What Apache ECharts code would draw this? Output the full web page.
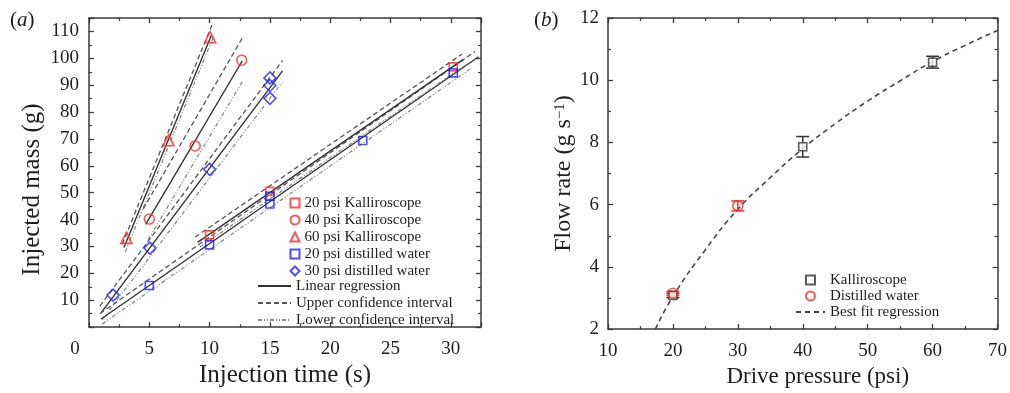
<!DOCTYPE html>
<html><head><meta charset="utf-8">
<script src="https://cdn.jsdelivr.net/npm/echarts@6/dist/echarts.min.js"></script>
<style>html,body{margin:0;padding:0;background:#fff}#c{width:1010px;height:393px}</style>
</head><body><div id="c"></div>
<script>
// ---------- Panel (a): injected mass vs injection time ----------
const k20 = [[10, 34.3], [15, 50.5], [30.2, 96.8]];
const k40 = [[5, 40.2], [8.8, 67.4], [12.66, 99.3]];
const k60 = [[3.1, 33.2], [6.6, 69.5], [10.05, 107.9]];
const w20 = [[5, 15.5], [10, 30.6], [15, 48.7], [15, 45.8], [22.7, 69.4], [30.2, 94.6]];
const w30 = [[2.0, 11.9], [5.05, 29.4], [10, 58.7], [15, 92.7], [15, 89.9], [15, 85.1]];

// regression lines and confidence intervals (end points)
const fitK60 = [[2.9, 29.6], [10.15, 108.6]];
const upK60 = [[2.75, 30.8], [10.25, 113.0]];
const loK60 = [[3.0, 28.0], [10.35, 108.4]];
const fitK40 = [[4.7, 38.2], [12.7, 99.0]];
const upK40 = [[4.5, 44.0], [12.7, 107.5]];
const loK40 = [[4.9, 32.5], [12.8, 92.0]];
const fitW30 = [[1.0, 5.3], [16.05, 95.3]];
const upW30 = [[0.9, 7.8], [16.05, 99.2]];
const loW30 = [[1.1, 2.8], [16.0, 91.0]];
const fitW20 = [[1.0, 3.0], [32.3, 100.6]];
const upW20 = [[0.9, 5.0], [32.0, 102.5]];
const loW20 = [[1.1, 1.2], [31.6, 96.0]];
const fitK20 = [[9.0, 31.5], [31.0, 99.5]];
const upK20 = [[8.8, 33.5], [30.9, 101.5]];
const loK20 = [[9.2, 29.8], [31.2, 97.5]];

// ---------- Panel (b): flow rate vs drive pressure ----------
const kallPts = [[20, 3.08], [40, 7.86], [60, 10.58]];
const kallErr = [0.07, 0.33, 0.19];
const waterPts = [[20, 3.15], [30, 5.96]];
const waterErr = [0.07, 0.16];
const bestFit = [[17.3, 2.0], [20, 3.05], [25, 4.55], [30, 5.85], [35, 6.87], [40, 7.8], [45, 8.6], [50, 9.33], [55, 9.98], [60, 10.6], [65, 11.12], [70, 11.6]];

const FONT = 'Liberation Serif';
const TXT = '#1e1e1e';
const AX = '#3a3a3a';
const RED = '#ff2b2b';
const BLUE = '#2222ff';

function axisBase(extra) {
  return Object.assign({
    type: 'value',
    axisLine: { show: true, onZero: false, lineStyle: { color: AX, width: 1.5 } },
    axisTick: { show: true, inside: true, length: 5, lineStyle: { color: AX, width: 1.3 } },
    minorTick: { show: true, inside: true, splitNumber: 2, length: 3, lineStyle: { color: AX, width: 1.2 } },
    splitLine: { show: false },
    axisLabel: { show: false }
  }, extra);
}
const labelStyle = { fontFamily: FONT, fontSize: 19, color: TXT };
const nameStyle = { fontFamily: FONT, fontSize: 25, color: TXT };
const legendText = { fontFamily: FONT, fontSize: 15, color: TXT, lineHeight: 17 };

const markerStyle = (c) => ({ color: 'rgba(0,0,0,0)', borderColor: c, borderWidth: 1.6 });
function scatter(name, data, symbol, size, color) {
  return { name, type: 'scatter', xAxisIndex: 0, yAxisIndex: 0, data, symbol, symbolSize: size,
    itemStyle: markerStyle(color), z: 5 };
}
function lineS(name, data, kind) {
  const ls = kind === 'fit' ? { color: '#333', width: 1.4, type: 'solid' }
    : kind === 'up' ? { color: '#555', width: 1.3, type: [5, 3] }
    : { color: '#8a8a8a', width: 1.3, type: [4, 2, 1, 2, 1, 2] };
  return { name, type: 'line', xAxisIndex: 0, yAxisIndex: 0, data, symbol: 'none',
    lineStyle: ls, itemStyle: { color: ls.color }, z: 3, silent: true };
}
function errSeries(pts, errs, color) {
  return {
    type: 'custom', xAxisIndex: 2, yAxisIndex: 2, z: 4, silent: true,
    data: pts.map((p, i) => [p[0], p[1], errs[i]]),
    renderItem: function (params, api) {
      const x = api.value(0), y = api.value(1), e = api.value(2);
      const t = api.coord([x, y + e]), b = api.coord([x, y - e]);
      const w = 6.5, st = { stroke: color, lineWidth: 1.5 };
      return { type: 'group', children: [
        { type: 'line', shape: { x1: t[0], y1: t[1], x2: b[0], y2: b[1] }, style: st },
        { type: 'line', shape: { x1: t[0] - w, y1: t[1], x2: t[0] + w, y2: t[1] }, style: st },
        { type: 'line', shape: { x1: b[0] - w, y1: b[1], x2: b[0] + w, y2: b[1] }, style: st }
      ] };
    }
  };
}
const panelRich = { p: { fontFamily: FONT, fontSize: 21, fontWeight: 'normal', color: TXT },
  i: { fontFamily: FONT, fontSize: 21, fontWeight: 'normal', fontStyle: 'italic', color: TXT } };

const chart = echarts.init(document.getElementById('c'));
chart.setOption({
  animation: false,
  backgroundColor: '#fff',
  title: [
    { text: '{p|(}{i|a}{p|)}', left: 5, top: 5, textStyle: { fontWeight: 'normal', rich: panelRich } },
    { text: '{p|(}{i|b}{p|)}', left: 529, top: 5, textStyle: { fontWeight: 'normal', rich: panelRich } }
  ],
  grid: [
    { left: 89, top: 18, width: 392, height: 312 },
    { left: 608, top: 18, width: 392, height: 314 }
  ],
  xAxis: [
    axisBase({ gridIndex: 0, position: 'bottom', min: 0, max: 32.5, interval: 5,
      axisLabel: { show: true, margin: 12, ...labelStyle,
        formatter: v => v === 0 ? '{z|0}' : (Math.abs(v % 5) < 1e-9 ? String(v) : ''),
        rich: { z: { ...labelStyle, padding: [0, 28, 0, 0] } } },
      name: 'Injection time (s)', nameLocation: 'middle', nameGap: 32, nameTextStyle: nameStyle }),
    axisBase({ gridIndex: 0, position: 'top', min: 0, max: 32.5, interval: 5 }),
    axisBase({ gridIndex: 1, position: 'bottom', min: 10, max: 70, interval: 10,
      axisLabel: { show: true, margin: 12, ...labelStyle },
      name: 'Drive pressure (psi)', nameLocation: 'middle', nameGap: 33,
      nameTextStyle: { ...nameStyle, fontSize: 23, padding: [0, 0, 0, 30] } }),
    axisBase({ gridIndex: 1, position: 'top', min: 10, max: 70, interval: 10 })
  ],
  yAxis: [
    axisBase({ gridIndex: 0, position: 'left', min: 0, max: 115, interval: 10,
      axisLabel: { show: true, margin: 10, ...labelStyle,
        formatter: v => (v > 0 && Math.abs(v % 10) < 1e-9) ? String(v) : '' },
      name: 'Injected mass (g)', nameLocation: 'middle', nameGap: 44,
      nameTextStyle: { ...nameStyle, padding: [0, 34, 0, 0] } }),
    axisBase({ gridIndex: 0, position: 'right', min: 0, max: 115, interval: 10 }),
    axisBase({ gridIndex: 1, position: 'left', min: 2, max: 12, interval: 2,
      axisLabel: { show: true, margin: 9, ...labelStyle },
      name: '{n|Flow rate (g s}{s|−1}{n|)}', nameLocation: 'middle', nameGap: 30,
      nameTextStyle: { ...nameStyle, rich: { n: { ...nameStyle, fontSize: 24 }, s: { fontFamily: FONT, fontSize: 15, color: TXT, verticalAlign: 'top' } } } }),
    axisBase({ gridIndex: 1, position: 'right', min: 2, max: 12, interval: 2 })
  ],
  legend: [
    { left: 289.5, top: 194.5, padding: 0, orient: 'vertical', itemWidth: 9, itemHeight: 9, itemGap: 0, selectedMode: false,
      textStyle: legendText,
      data: ['20 psi Kalliroscope', '40 psi Kalliroscope', '60 psi Kalliroscope', '20 psi distilled water', '30 psi distilled water'] },
    { left: 257, top: 277.5, padding: 0, orient: 'vertical', itemWidth: 33, itemHeight: 9, itemGap: 0, selectedMode: false,
      itemStyle: { opacity: 0 },
      textStyle: legendText,
      data: ['Linear regression', 'Upper confidence interval', 'Lower confidence interval'] },
    { left: 795, top: 272, padding: 0, orient: 'vertical', itemWidth: 29, itemHeight: 9, itemGap: 0, selectedMode: false,
      textStyle: { ...legendText, lineHeight: 16 },
      data: [
        { name: 'Kalliroscope', icon: 'path://M0,0H10V10H0Z' },
        { name: 'Distilled water', icon: 'path://M10,5A5,5,0,1,1,0,5A5,5,0,1,1,10,5Z' },
        { name: 'Best fit regression', itemStyle: { opacity: 0 } }
      ] }
  ],
  series: [
    lineS('Linear regression', fitK60, 'fit'), lineS('Upper confidence interval', upK60, 'up'), lineS('Lower confidence interval', loK60, 'lo'),
    lineS('Linear regression', fitK40, 'fit'), lineS('Upper confidence interval', upK40, 'up'), lineS('Lower confidence interval', loK40, 'lo'),
    lineS('Linear regression', fitW30, 'fit'), lineS('Upper confidence interval', upW30, 'up'), lineS('Lower confidence interval', loW30, 'lo'),
    lineS('Linear regression', fitW20, 'fit'), lineS('Upper confidence interval', upW20, 'up'), lineS('Lower confidence interval', loW20, 'lo'),
    lineS('Linear regression', fitK20, 'fit'), lineS('Upper confidence interval', upK20, 'up'), lineS('Lower confidence interval', loK20, 'lo'),
    scatter('20 psi Kalliroscope', k20, 'rect', 8, RED),
    scatter('40 psi Kalliroscope', k40, 'circle', 10, RED),
    scatter('60 psi Kalliroscope', k60, 'triangle', 11, RED),
    scatter('20 psi distilled water', w20, 'rect', 8, BLUE),
    scatter('30 psi distilled water', w30, 'diamond', 12, BLUE),
    { name: 'Best fit regression', type: 'line', xAxisIndex: 2, yAxisIndex: 2, data: bestFit, smooth: true,
      symbol: 'none', lineStyle: { color: '#444', width: 1.6, type: [5, 4] }, itemStyle: { color: '#444' }, z: 3 },
    errSeries(kallPts, kallErr, '#333'),
    errSeries(waterPts, waterErr, RED),
    { name: 'Kalliroscope', type: 'scatter', xAxisIndex: 2, yAxisIndex: 2, data: kallPts, symbol: 'rect', symbolSize: 8,
      itemStyle: { color: '#fff', borderColor: '#333', borderWidth: 1.6 }, z: 5 },
    { name: 'Distilled water', type: 'scatter', xAxisIndex: 2, yAxisIndex: 2, data: waterPts, symbol: 'circle', symbolSize: 10,
      itemStyle: { color: 'rgba(255,255,255,0)', borderColor: RED, borderWidth: 1.6 }, z: 6 }
  ]
});
</script></body></html>
